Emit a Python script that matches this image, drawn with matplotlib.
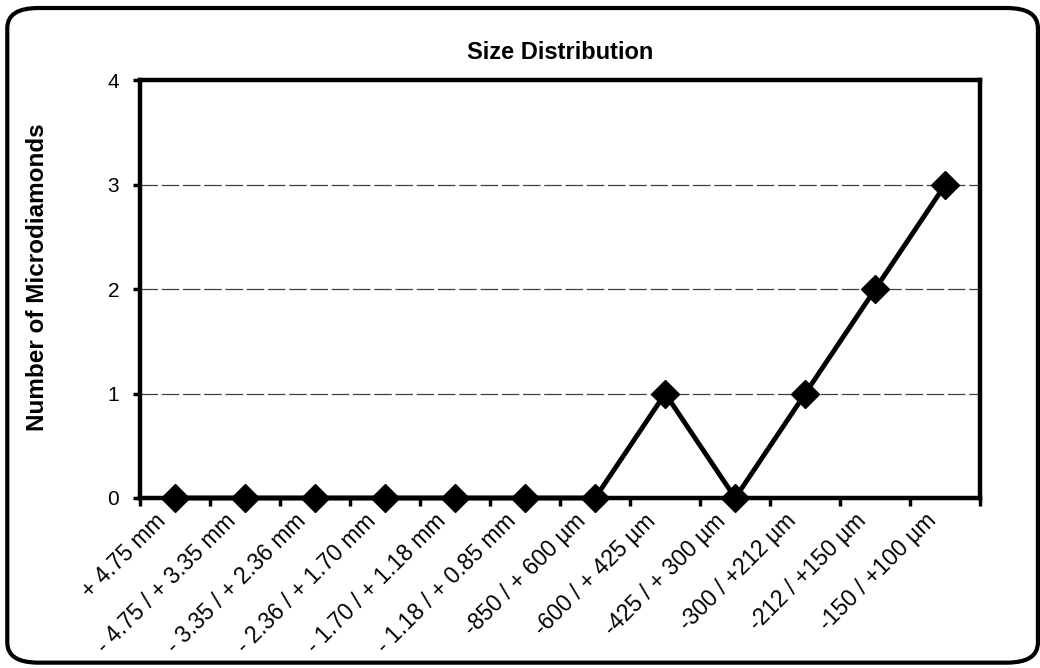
import matplotlib
matplotlib.use("Agg")
import matplotlib.pyplot as plt
import matplotlib.transforms as mtransforms
import numpy as np
from matplotlib.patches import FancyBboxPatch

# size classes and counts
sizes = ['+ 4.75 mm', '- 4.75 / + 3.35 mm', '- 3.35 / + 2.36 mm', '- 2.36 / + 1.70 mm',
         '- 1.70 / + 1.18 mm', '- 1.18 / + 0.85 mm', '-850 / + 600 µm', '-600 / + 425 µm',
         '-425 / + 300 µm', '-300 / +212 µm', '-212 / +150 µm', '-150 / +100 µm']
counts = [0, 0, 0, 0, 0, 0, 0, 1, 0, 1, 2, 3]

plt.rcParams['font.family'] = ['Liberation Sans', 'DejaVu Sans']

fig = plt.figure(figsize=(10.4, 6.68), dpi=100)
ax = fig.add_axes([0.1346, 0.2545, 0.808, 0.6255])

x = np.arange(len(sizes))
ax.plot(x, counts, color='black', linewidth=3.5, marker='D', markersize=14, zorder=3, clip_on=False)

ax.set_xlim(-0.5, len(sizes) - 0.5)
ax.set_ylim(0, 4)
ax.set_yticks([0, 1, 2, 3, 4])
ax.set_yticklabels(['0', '1', '2', '3', '4'], fontsize=15)
for yv in [1, 2, 3]:
    ax.axhline(yv, color='black', linewidth=0.9, linestyle=(0, (14, 3)), alpha=0.75, zorder=1)

# ticks between categories, labels at centers
ax.set_xticks(np.arange(-0.5, len(sizes), 1))
ax.set_xticklabels([])
ax.set_xticks(x, minor=True)
ax.set_xticklabels(sizes, minor=True, rotation=45, ha='right', va='center',
                   rotation_mode='anchor', fontsize=16.5)
ax.tick_params(axis='x', which='major', direction='out', length=6, width=2.5)
ax.tick_params(axis='x', which='minor', length=0, pad=14)
ax.tick_params(axis='y', direction='out', length=5, width=2.5, pad=10)
shift = mtransforms.ScaledTranslation(-13 / 100, 0, fig.dpi_scale_trans)
for lab in ax.get_xticklabels(minor=True):
    lab.set_transform(lab.get_transform() + shift)

for s in ax.spines.values():
    s.set_linewidth(3.2)

ax.set_title('Size Distribution', fontsize=17, fontweight='bold', pad=15)
ax.set_ylabel('Number of Microdiamonds', fontsize=17.5, fontweight='bold')
ax.yaxis.set_label_coords(-0.108, 0.529)

# rounded outer frame
frame = FancyBboxPatch((0.007, 0.008), 0.991, 0.98, boxstyle='round,pad=0,rounding_size=0.03',
                       transform=fig.transFigure, fill=False, linewidth=3, edgecolor='black')
fig.patches.append(frame)

fig.savefig('out.png', dpi=100)
